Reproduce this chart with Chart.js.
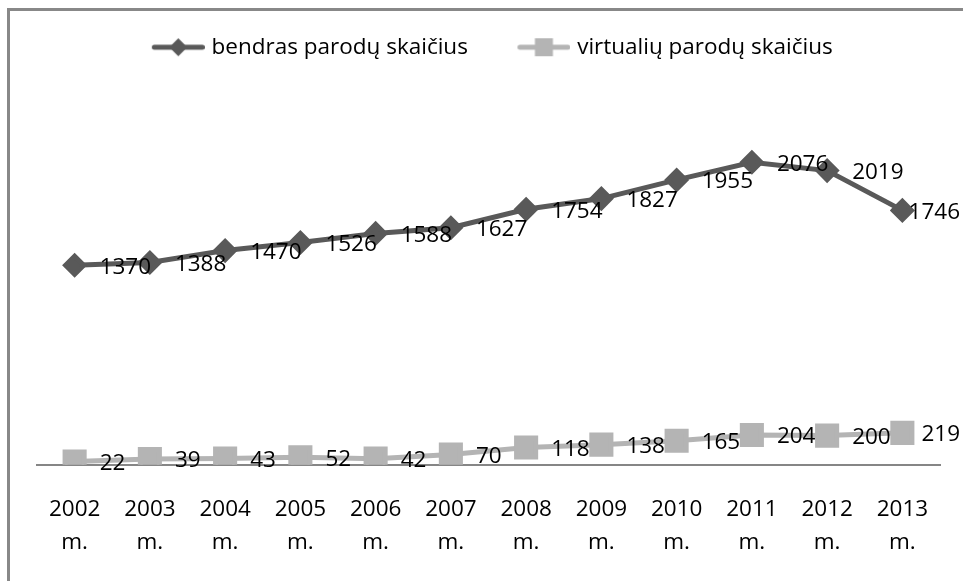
<!DOCTYPE html>
<html>
<head>
<meta charset="utf-8">
<script src="https://cdn.jsdelivr.net/npm/chart.js@4.4.1/dist/chart.umd.min.js"></script>
<style>
    html, body { margin: 0; padding: 0; background: #fff; overflow: hidden; }
    #frame {
        position: absolute; left: 7px; top: 8px; width: 1000px; height: 620px;
        border: 3px solid #888; box-sizing: border-box;
    }
    #wrap { position: absolute; left: 0; top: 0; width: 963px; height: 581px; }
</style>
</head>
<body>
<div id="frame"></div>
<div id="wrap"><canvas id="chart" width="963" height="581"></canvas></div>
<script>
const years = ['2002', '2003', '2004', '2005', '2006', '2007', '2008', '2009', '2010', '2011', '2012', '2013'];
const totalExhibitions = [1370, 1388, 1470, 1526, 1588, 1627, 1754, 1827, 1955, 2076, 2019, 1746];
const virtualExhibitions = [22, 39, 43, 52, 42, 70, 118, 138, 165, 204, 200, 219];

const FONT = '"Open Sans", "Noto Sans", sans-serif';
const FONT_SIZE = 22.5;
const ICON_W = 56;

// legend marker: short line with the point symbol, drawn at the right end of the canvas
function legendIcon(color, shape) {
    const c = document.createElement('canvas');
    c.width = 65; c.height = 20;
    const g = c.getContext('2d');
    const x0 = c.width - 53;
    g.strokeStyle = color;
    g.lineWidth = 5;
    g.lineCap = 'round';
    g.beginPath();
    g.moveTo(x0 + 2.5, 10); g.lineTo(x0 + 50.5, 10);
    g.stroke();
    g.fillStyle = color;
    if (shape === 'diamond') {
        g.beginPath();
        g.moveTo(x0 + 26.5, 1); g.lineTo(x0 + 35.5, 10); g.lineTo(x0 + 26.5, 19); g.lineTo(x0 + 17.5, 10);
        g.closePath(); g.fill();
    } else {
        g.fillRect(x0 + 17.5, 1, 18, 18);
    }
    return c;
}

const darkIcon = legendIcon('#595959', 'diamond');
const lightIcon = legendIcon('#b4b4b4', 'square');

// value labels to the right of each point
const valueLabels = {
    id: 'valueLabels',
    afterDatasetsDraw(chart) {
        const ctx = chart.ctx;
        ctx.save();
        ctx.font = FONT_SIZE + 'px ' + FONT;
        ctx.fillStyle = '#000';
        ctx.textAlign = 'left';
        ctx.textBaseline = 'middle';
        chart.data.datasets.forEach((ds, i) => {
            const meta = chart.getDatasetMeta(i);
            meta.data.forEach((pt, j) => {
                const txt = String(ds.data[j]);
                const w = ctx.measureText(txt).width;
                let x = pt.x + 25;
                if (x + w > 960) x = 960 - w;
                ctx.fillText(txt, x, pt.y + 2);
            });
        });
        ctx.restore();
    }
};

new Chart(document.getElementById('chart').getContext('2d'), {
    type: 'line',
    data: {
        labels: years.map(y => [y, 'm.']),
        datasets: [{
            label: 'bendras parodų skaičius',
            data: totalExhibitions,
            borderColor: '#595959',
            backgroundColor: '#595959',
            borderWidth: 5,
            pointStyle: 'rectRot',
            pointRadius: 9,
            pointHoverRadius: 9,
            tension: 0
        }, {
            label: 'virtualių parodų skaičius',
            data: virtualExhibitions,
            borderColor: '#b4b4b4',
            backgroundColor: '#b4b4b4',
            borderWidth: 5,
            pointStyle: 'rect',
            pointRadius: 13.5,
            pointHoverRadius: 13.5,
            tension: 0
        }]
    },
    options: {
        responsive: false,
        animation: false,
        layout: {
            padding: { left: 37, right: 23, top: -6, bottom: -7 }
        },
        plugins: {
            tooltip: { enabled: false },
            legend: {
                position: 'top',
                labels: {
                    usePointStyle: true,
                    pointStyleWidth: ICON_W,
                    padding: 42,
                    color: '#000',
                    font: { family: FONT, size: FONT_SIZE },
                    generateLabels(chart) {
                        return chart.data.datasets.map((ds, i) => ({
                            text: ds.label,
                            pointStyle: i === 0 ? darkIcon : lightIcon,
                            fillStyle: ds.borderColor,
                            strokeStyle: ds.borderColor,
                            lineWidth: 0,
                            datasetIndex: i,
                            hidden: false
                        }));
                    }
                }
            }
        },
        scales: {
            x: {
                offset: true,
                grid: { display: false, drawTicks: false },
                border: { display: true, color: '#868686', width: 2 },
                ticks: {
                    color: '#000',
                    maxRotation: 0,
                    padding: 29,
                    font: { family: FONT, size: FONT_SIZE, lineHeight: 1.45 }
                }
            },
            y: {
                display: false,
                min: 0,
                max: 2720
            }
        }
    },
    plugins: [valueLabels]
});
</script>
</body>
</html>
